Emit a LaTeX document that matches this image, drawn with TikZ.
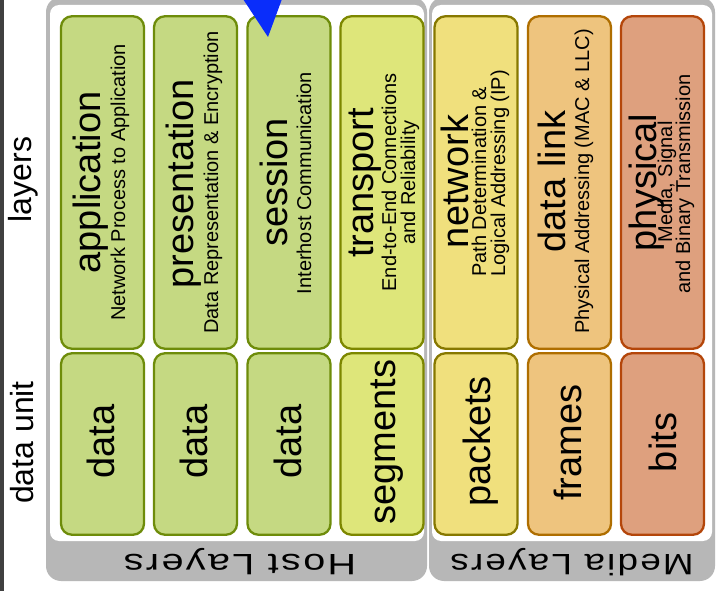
\documentclass[tikz,border=0pt]{standalone}
\usepackage{fontspec}
\setmainfont{Liberation Sans}
\newfontfamily\grpfont[LetterSpace=6]{Liberation Sans}
\usetikzlibrary{positioning}
\definecolor{gfill}{RGB}{197,217,130}
\definecolor{gline}{RGB}{110,140,10}
\definecolor{tfill}{RGB}{222,230,122}
\definecolor{tline}{RGB}{125,135,0}
\definecolor{nfill}{RGB}{240,224,125}
\definecolor{nline}{RGB}{135,120,0}
\definecolor{dfill}{RGB}{238,196,126}
\definecolor{dline}{RGB}{175,110,0}
\definecolor{pfill}{RGB}{222,160,126}
\definecolor{pline}{RGB}{180,70,10}
\definecolor{panelgray}{RGB}{183,183,183}
\definecolor{darkstrip}{RGB}{64,64,64}
\definecolor{arrowblue}{RGB}{10,45,250}
\tikzset{
  lbox/.style={draw, line width=2.3pt, rounded corners=11pt, minimum width=83pt, inner sep=0pt},
  topbox/.style={lbox, minimum height=332.5pt},
  botbox/.style={lbox, minimum height=181.5pt},
  mainlbl/.style={rotate=90, anchor=base, inner sep=0pt, font=\fontsize{38}{40}\selectfont},
  sublbl/.style={rotate=90, anchor=base, inner sep=0pt, font=\fontsize{20}{22}\selectfont},
  sidelbl/.style={rotate=90, anchor=base, inner sep=0pt, font=\fontsize{32}{34}\selectfont},
  grouplbl/.style={rotate=180, anchor=base, inner sep=0pt, font=\grpfont\fontsize{29.5}{31}\selectfont},
}
\begin{document}
\begin{tikzpicture}[x=1pt, y=-1pt]
\useasboundingbox (0,0) rectangle (716,591);
\fill[white] (0,0) rectangle (716,591);
\fill[darkstrip] (0,0) rectangle (4,591);
% panels
\fill[panelgray, rounded corners=15pt] (46,-3) rectangle (427,581);
\fill[white, rounded corners=9pt] (50,5) rectangle (424,541);
\fill[panelgray, rounded corners=15pt] (429,-3) rectangle (715,581);
\fill[white, rounded corners=9pt] (432,5) rectangle (712,541);
% side labels
\node[sidelbl] (lyr) at (31,179.5) {layers};
\node[sidelbl] (du) at (33,442.5) {data unit};
% group labels
\node[grouplbl] (host) at (240,554) {\scalebox{1.34}[1]{Host Layers}};
\node[grouplbl] (media) at (572,554) {\scalebox{1.25}[1]{Media Layers}};
% layer boxes
\node[topbox, fill=gfill, draw=gline] (appT) at (102.5,182.5) {};
\node[botbox, fill=gfill, draw=gline] (appB) at (102.5,444) {};
\node[topbox, fill=gfill, draw=gline] (preT) at (195.5,182.5) {};
\node[botbox, fill=gfill, draw=gline] (preB) at (195.5,444) {};
\node[topbox, fill=gfill, draw=gline] (sesT) at (289,182.5) {};
\node[botbox, fill=gfill, draw=gline] (sesB) at (289,444) {};
\node[topbox, fill=tfill, draw=tline] (traT) at (382,182.5) {};
\node[botbox, fill=tfill, draw=tline] (traB) at (382,444) {};
\node[topbox, fill=nfill, draw=nline] (netT) at (476,182.5) {};
\node[botbox, fill=nfill, draw=nline] (netB) at (476,444) {};
\node[topbox, fill=dfill, draw=dline] (dlT) at (569.5,182.5) {};
\node[botbox, fill=dfill, draw=dline] (dlB) at (569.5,444) {};
\node[topbox, fill=pfill, draw=pline] (phT) at (662.5,182.5) {};
\node[botbox, fill=pfill, draw=pline] (phB) at (662.5,444) {};
% layer names
\node[mainlbl] (appN) at (100,182.5) {application};
\node[sublbl] (appS) at (125,182.5) {Network Process to Application};
\node[mainlbl] (preN) at (193,184) {presentation};
\node[sublbl] (preS) at (218,182.5) {Data Representation \& Encryption};
\node[mainlbl] (sesN) at (287,182.5) {session};
\node[sublbl] (sesS) at (311,183) {Interhost Communication};
\node[mainlbl] (traN) at (373,183) {transport};
\node[sublbl] (traS1) at (396,182.5) {End-to-End Connections};
\node[sublbl] (traS2) at (415,182.5) {and Reliability};
\node[mainlbl] (netN) at (468,181.5) {network};
\node[sublbl, anchor=base west] (netS1) at (486,277) {Path Determination \&};
\node[sublbl, anchor=base west] (netS2) at (505,277) {Logical Addressing (IP)};
\node[mainlbl] (dlN) at (565,181.5) {data link};
\node[sublbl] (dlS) at (589,181.5) {Physical Addressing (MAC \& LLC)};
\node[mainlbl] (phN) at (656,182.5) {physical};
\node[sublbl] (phS1) at (672,182) {Media, Signal};
\node[sublbl] (phS2) at (690,184) {and Binary Transmission};
% data units
\node[mainlbl] (appU) at (114,441.5) {data};
\node[mainlbl] (preU) at (207,441.5) {data};
\node[mainlbl] (sesU) at (301,441.5) {data};
\node[mainlbl] (traU) at (395,442) {segments};
\node[mainlbl] (netU) at (490,441.5) {packets};
\node[mainlbl] (dlU) at (581,442.5) {frames};
\node[mainlbl] (phU) at (676,442.5) {bits};
% blue arrow head
\coordinate (arL) at (243,-1);
\coordinate (arR) at (282,-1);
\coordinate (arT) at (268,37);
\fill[arrowblue] (arL) -- (arR) -- (arT) -- cycle;
\end{tikzpicture}
\end{document}
